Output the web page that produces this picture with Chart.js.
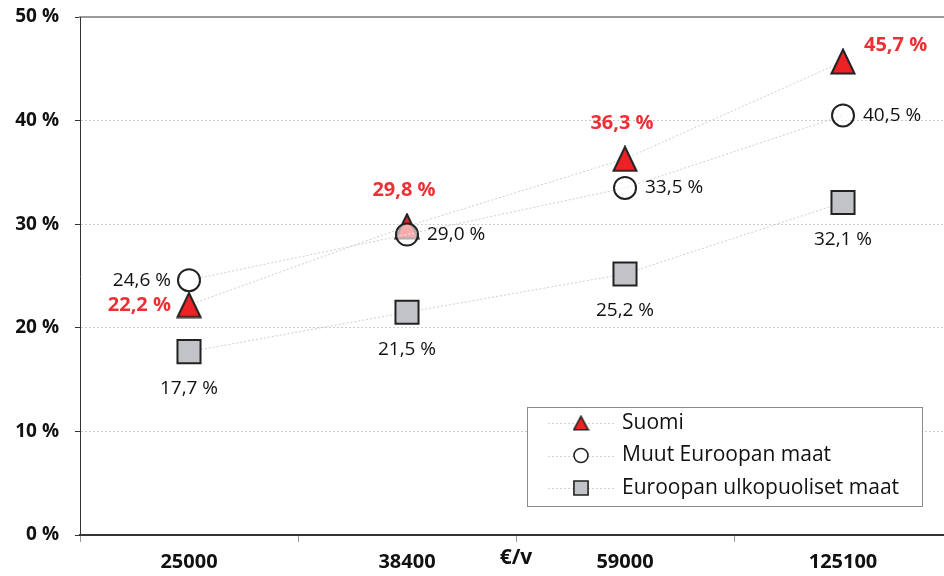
<!DOCTYPE html>
<html lang="fi">
<head>
<meta charset="utf-8">
<title>Tulotaso ja osuus</title>
<script src="https://cdn.jsdelivr.net/npm/chart.js@4/dist/chart.umd.min.js"></script>
<style>
  html, body { margin: 0; padding: 0; background: #fff; overflow: hidden; }
  #wrap { width: 952px; height: 576px; }
</style>
</head>
<body>
<div id="wrap"><canvas id="chart" width="952" height="576"></canvas></div>
<script>
(function () {
  "use strict";

  // income levels (€/v) and shares per group, in percent
  var incomeLevels = ["25000", "38400", "59000", "125100"];
  var seriesNames = ["Suomi", "Muut Euroopan maat", "Euroopan ulkopuoliset maat"];
  var suomi = [22.2, 29.8, 36.3, 45.7];
  var muutEurooppa = [24.6, 29.0, 33.5, 40.5];
  var ulkopuoliset = [17.7, 21.5, 25.2, 32.1];
  var yTicks = [0, 10, 20, 30, 40, 50];

  // where each value label sits relative to its marker
  var suomiLabelAt = ["left", "above", "above", "aboveRight"];
  var muutLabelAt = ["left", "right", "right", "right"];
  var ulkoLabelAt = ["below", "below", "below", "below"];

  var RED = "#ec2227";
  var RED_TEXT = "#ee3036";
  var EDGE = "#222";
  var FONT = "'Open Sans', 'DejaVu Sans', sans-serif";

  Chart.defaults.font.family = FONT;
  Chart.defaults.color = "#111";

  function makeTriangle(w, h, lw) {
    var c = document.createElement("canvas");
    c.width = w;
    c.height = h;
    var g = c.getContext("2d");
    var p = lw / 2 + 0.5;
    g.beginPath();
    g.moveTo(w / 2, p);
    g.lineTo(w - p, h - p);
    g.lineTo(p, h - p);
    g.closePath();
    g.fillStyle = RED;
    g.fill();
    g.lineWidth = lw;
    g.lineJoin = "miter";
    g.strokeStyle = EDGE;
    g.stroke();
    return c;
  }

  var triangleBig = makeTriangle(26, 27, 2);
  var triangleSmall = makeTriangle(17, 16, 1.6);

  function fmt(v) {
    return v.toFixed(1).replace(".", ",") + " %";
  }

  var valueLabels = {
    id: "valueLabels",
    afterDatasetsDraw: function (chart) {
      var ctx = chart.ctx;
      chart.data.datasets.forEach(function (ds, di) {
        var meta = chart.getDatasetMeta(di);
        meta.data.forEach(function (pt, i) {
          var where = ds.labelAt[i];
          var x = pt.x, y = pt.y;
          ctx.save();
          ctx.font = ds.labelFont;
          ctx.fillStyle = ds.labelColor;
          ctx.textBaseline = "middle";
          if (where === "left") {
            ctx.textAlign = "right";
            x -= 18;
          } else if (where === "right") {
            ctx.textAlign = "left";
            x += 20;
          } else if (where === "above") {
            ctx.textAlign = "center";
            x -= 3;
            y -= 36;
          } else if (where === "aboveRight") {
            ctx.textAlign = "left";
            x += 21;
            y -= 16;
          } else {
            ctx.textAlign = "center";
            y += 37;
          }
          ctx.fillText(fmt(ds.data[i]), x, y);
          ctx.restore();
        });
      });
    }
  };

  // boxed legend inside the plot, lower right
  var boxLegend = {
    id: "boxLegend",
    afterDraw: function (chart) {
      var ctx = chart.ctx;
      var bx = 527.5, by = 407.5, bw = 395, bh = 99;
      ctx.save();
      ctx.fillStyle = "#fff";
      ctx.fillRect(bx, by, bw, bh);
      ctx.strokeStyle = "#8a8a8a";
      ctx.lineWidth = 1;
      ctx.strokeRect(bx, by, bw, bh);

      chart.data.datasets.forEach(function (ds, i) {
        var cy = 423 + i * 32.5;
        var mx = 581;
        ctx.save();
        ctx.strokeStyle = "#d4d4d4";
        ctx.lineWidth = 1;
        ctx.setLineDash([2, 2]);
        ctx.beginPath();
        ctx.moveTo(548, Math.round(cy) + 0.5);
        ctx.lineTo(614, Math.round(cy) + 0.5);
        ctx.stroke();
        ctx.restore();

        ctx.save();
        if (ds.legendStyle === "triangle") {
          ctx.drawImage(triangleSmall, mx - triangleSmall.width / 2, cy - triangleSmall.height / 2);
        } else {
          ctx.fillStyle = ds.legendFill;
          ctx.strokeStyle = EDGE;
          ctx.lineWidth = 1.6;
          Chart.helpers.drawPoint(ctx, {
            pointStyle: ds.legendStyle,
            radius: ds.legendStyle === "rect" ? 10 : 7,
            rotation: 0,
            borderWidth: 1.6
          }, mx, cy);
        }
        ctx.restore();

        ctx.fillStyle = "#111";
        ctx.font = "21px " + FONT;
        ctx.textAlign = "left";
        ctx.textBaseline = "middle";
        ctx.fillText(ds.label, 622, cy);
      });
      ctx.restore();
    }
  };

  var lineStyle = {
    showLine: true,
    borderColor: "#cfcfcf",
    borderWidth: 1,
    borderDash: [2, 2],
    tension: 0,
    fill: false
  };

  var datasets = [
    Object.assign({}, lineStyle, {
      label: seriesNames[0],
      data: suomi,
      order: 1,
      pointStyle: triangleBig,
      pointRadius: 13,
      labelAt: suomiLabelAt,
      labelFont: "bold 20px " + FONT,
      labelColor: RED_TEXT,
      legendStyle: "triangle"
    }),
    Object.assign({}, lineStyle, {
      label: seriesNames[1],
      data: muutEurooppa,
      pointStyle: "circle",
      pointRadius: 11,
      pointBackgroundColor: "rgba(255,255,255,0.62)",
      pointBorderColor: EDGE,
      pointBorderWidth: 2,
      labelAt: muutLabelAt,
      labelFont: "19px " + FONT,
      labelColor: "#111",
      legendStyle: "circle",
      legendFill: "#fff"
    }),
    Object.assign({}, lineStyle, {
      label: seriesNames[2],
      data: ulkopuoliset,
      pointStyle: "rect",
      pointRadius: 16.3,
      pointBackgroundColor: "#c2c3c7",
      pointBorderColor: EDGE,
      pointBorderWidth: 2,
      labelAt: ulkoLabelAt,
      labelFont: "19px " + FONT,
      labelColor: "#111",
      legendStyle: "rect",
      legendFill: "#c2c3c7"
    })
  ];

  new Chart(document.getElementById("chart"), {
    type: "line",
    data: { labels: incomeLevels, datasets: datasets },
    plugins: [valueLabels, boxLegend],
    options: {
      responsive: false,
      animation: false,
      events: [],
      layout: { padding: 0, autoPadding: false },
      plugins: {
        legend: { display: false },
        tooltip: { enabled: false }
      },
      scales: {
        x: {
          type: "category",
          position: "bottom",
          offset: true,
          afterFit: function (scale) { scale.height = 41; },
          grid: {
            offset: true,
            drawOnChartArea: false,
            drawTicks: true,
            tickLength: 7,
            tickColor: "#999",
            lineWidth: 1
          },
          border: { display: true, color: "#333", width: 2 },
          ticks: {
            padding: 8,
            font: { size: 20, weight: "bold" },
            color: "#111"
          },
          title: {
            display: true,
            text: "€/v",
            font: { size: 21, weight: "bold" },
            color: "#111",
            padding: { top: 0, bottom: 5 }
          }
        },
        xTop: {
          type: "category",
          position: "top",
          offset: true,
          afterFit: function (scale) { scale.height = 17; },
          grid: { display: false, drawOnChartArea: false, drawTicks: false },
          border: { display: true, color: "#9a9a9a", width: 2 },
          ticks: { display: false }
        },
        y: {
          min: yTicks[0],
          max: yTicks[yTicks.length - 1],
          afterFit: function (scale) {
            scale.width = 80;
            scale.paddingTop = 0;
            scale.paddingBottom = 0;
          },
          afterBuildTicks: function (scale) {
            scale.ticks = yTicks.map(function (v) { return { value: v }; });
          },
          grid: {
            color: function (c) {
              var v = c.tick ? c.tick.value : null;
              return (v === yTicks[0] || v === yTicks[yTicks.length - 1]) ? "rgba(0,0,0,0)" : "#cccccc";
            },
            lineWidth: 1,
            drawTicks: true,
            tickLength: 5,
            tickColor: "#333",
            tickWidth: 1
          },
          border: { display: true, color: "#333", width: 1, dash: [2, 2] },
          ticks: {
            padding: 16,
            font: { size: 19, weight: "bold" },
            color: "#111",
            callback: function (v) { return v + " %"; }
          }
        }
      }
    }
  });
})();
</script>
</body>
</html>
